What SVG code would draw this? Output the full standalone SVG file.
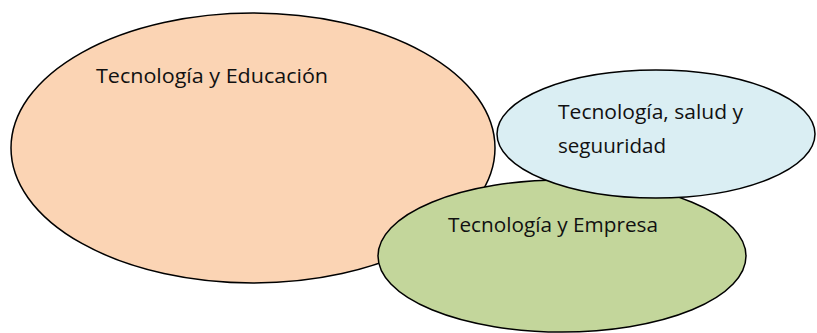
<svg xmlns="http://www.w3.org/2000/svg" width="817" height="333" viewBox="0 0 817 333">
<style>
.n{stroke:#000;stroke-width:1.5}
.t{font-family:"Open Sans","Liberation Sans",sans-serif;font-size:19.5px;fill:#111}
</style>
<rect width="817" height="333" fill="#fff"/>
<g id="educacion">
<ellipse class="n" cx="253" cy="148" rx="242" ry="135" fill="#fbd4b4"/>
<text class="t" x="96" y="83" textLength="232" lengthAdjust="spacingAndGlyphs">Tecnología  y Educación</text>
</g>
<g id="empresa">
<ellipse class="n" cx="562" cy="256" rx="184" ry="76" fill="#c3d69b"/>
<text class="t" x="448" y="232" textLength="210" lengthAdjust="spacingAndGlyphs">Tecnología y Empresa</text>
</g>
<g id="salud">
<ellipse class="n" cx="656" cy="134" rx="159" ry="64" fill="#daeef3"/>
<text class="t" x="558" y="119" textLength="185" lengthAdjust="spacingAndGlyphs">Tecnología, salud y</text>
<text class="t" x="558" y="153" textLength="108" lengthAdjust="spacingAndGlyphs">seguuridad</text>
</g>
<g id="connectors"/>
</svg>
